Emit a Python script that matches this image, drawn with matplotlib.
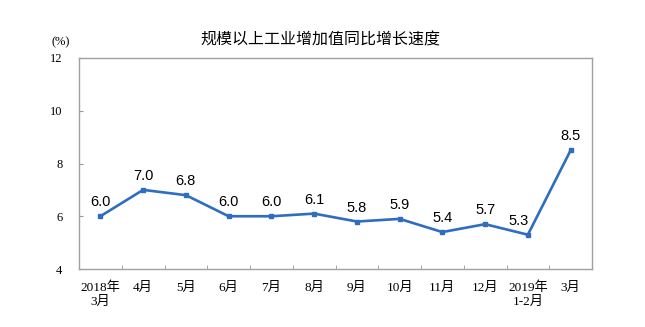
import matplotlib
matplotlib.use('Agg')
import matplotlib.pyplot as plt
import numpy as np

# 数据
months = ['2018年\n3月', '4月', '5月', '6月', '7月', '8月', '9月', '10月',
          '11月', '12月', '2019年\n1-2月', '3月']
growth = [6.0, 7.0, 6.8, 6.0, 6.0, 6.1, 5.8, 5.9, 5.4, 5.7, 5.3, 8.5]
y_ticks = [4, 6, 8, 10, 12]

serif = ['Liberation Serif', 'Noto Sans CJK SC']
sans = ['Liberation Sans', 'Noto Sans CJK SC']

fig = plt.figure(figsize=(6.45, 3.27), dpi=100)
ax = fig.add_axes([79 / 645, 58 / 327, 513 / 645, 211 / 327])

x = np.arange(len(months))
ax.plot(x, growth, color='#2E6DBF', linewidth=1.9, marker='s', markersize=3.5)

# 数据标签
for i, v in enumerate(growth):
    dx = -7 if i == 10 else 0
    ax.annotate(f'{v:.1f}', (i, v), xytext=(dx, 5), textcoords='offset points',
                ha='center', va='bottom', fontsize=10.5, family=sans)

ax.set_xlim(-0.5, len(months) - 0.5)
ax.set_ylim(4, 12)
ax.set_yticks(y_ticks)
ax.set_yticklabels([str(t) for t in y_ticks], family=serif, fontsize=9)
ax.set_xticks(x)
ax.set_xticklabels(months, family=serif, fontsize=9.5, linespacing=1.25)
ax.tick_params(axis='x', which='major', length=0, pad=9)
ax.set_xticks(x[:-1] + 0.5, minor=True)
ax.tick_params(axis='x', which='minor', direction='in', length=3, color='#999999')
ax.tick_params(axis='y', direction='in', length=3, color='#999999', pad=12)

for s in ax.spines.values():
    s.set_color('#A0A0A0')
    s.set_linewidth(1.0)

fig.text(61 / 645, 1 - 42 / 327, '(%)', ha='center', va='center', family=serif, fontsize=9)
fig.text(320 / 645, 1 - 40 / 327, '规模以上工业增加值同比增长速度', ha='center', va='center',
         family=sans, fontsize=11.5)

fig.savefig('out.png', dpi=100)
